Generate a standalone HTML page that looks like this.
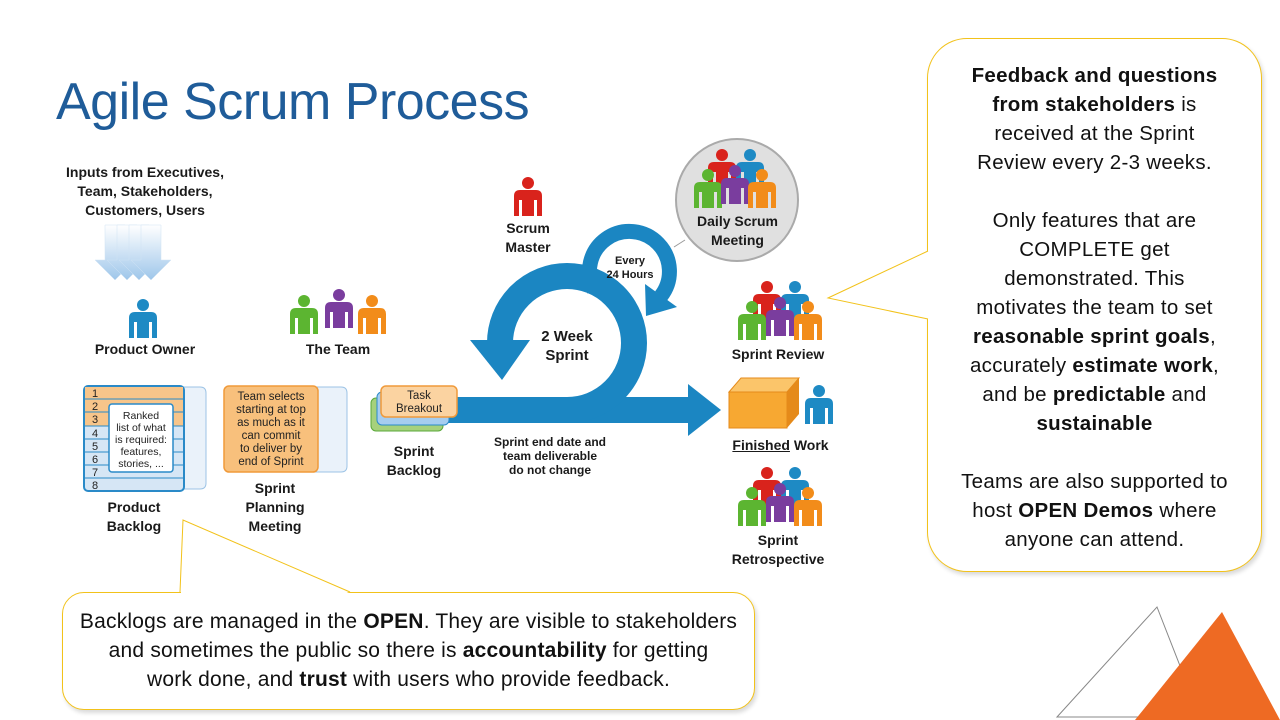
<!DOCTYPE html>
<html><head><meta charset="utf-8"><style>
body{margin:0;width:1280px;height:720px;overflow:hidden;background:#fff;font-family:"Liberation Sans",sans-serif;position:relative}
.t{position:absolute;font-weight:bold;font-size:14px;color:#1a1a1a;text-align:center;line-height:19px}
.callout{position:absolute;color:#111;text-align:center;line-height:29px}
</style></head><body>
<div style="position:absolute;left:56px;top:72px;font-size:52px;color:#1F5C99;letter-spacing:-0.5px">Agile Scrum Process</div>

<svg width="1280" height="720" style="position:absolute;left:0;top:0">
<defs>
<linearGradient id="dn" x1="0" y1="0" x2="0" y2="1"><stop offset="0" stop-color="#fff"/><stop offset="1" stop-color="#9ec6ea"/></linearGradient>
<g id="p"><circle cx="0" cy="-13" r="6"/><path d="M-14 20 V0 Q-14 -6 -8 -6 H8 Q14 -6 14 0 V20 H9 V4 H6 V20 H-6 V4 H-9 V20Z"/></g>
</defs>
<g fill="url(#dn)" stroke="#cfe2f3" stroke-width="0.5">
<path d="M105 225 h20 v35 h10 l-20 20 l-20 -20 h10z"/><path d="M117 225 h20 v35 h10 l-20 20 l-20 -20 h10z"/><path d="M129 225 h20 v35 h10 l-20 20 l-20 -20 h10z"/><path d="M141 225 h20 v35 h10 l-20 20 l-20 -20 h10z"/>
</g>
<use href="#p" x="143" y="318" fill="#1e8ac4"/>
<use href="#p" x="528" y="196" fill="#d9231c"/>
<g><use href="#p" x="304" y="314" fill="#5cb531"/><use href="#p" x="339" y="308" fill="#7a3d9e"/><use href="#p" x="372" y="314" fill="#f28c1a"/></g>
<g>
<path d="M183 387 h17 q6 0 6 6 v90 q0 6 -6 6 h-17" fill="#eaf2fa" stroke="#9cc3e5"/>
<rect x="84" y="386" width="100" height="105" rx="4" fill="#d6e6f5" stroke="#2a8ac8" stroke-width="2"/>
<rect x="85" y="387" width="98" height="39" fill="#f7c58a"/>
<g stroke="#2a8ac8" stroke-width="1"><line x1="84" y1="399" x2="184" y2="399"/><line x1="84" y1="412" x2="184" y2="412"/><line x1="84" y1="426" x2="184" y2="426"/><line x1="84" y1="439" x2="184" y2="439"/><line x1="84" y1="452" x2="184" y2="452"/><line x1="84" y1="465" x2="184" y2="465"/><line x1="84" y1="478" x2="184" y2="478"/></g>
<g font-size="11" fill="#222"><text x="92" y="397">1</text><text x="92" y="410">2</text><text x="92" y="423">3</text><text x="92" y="437">4</text><text x="92" y="450">5</text><text x="92" y="463">6</text><text x="92" y="476">7</text><text x="92" y="489">8</text></g>
<rect x="109" y="404" width="64" height="68" rx="3" fill="#fff" stroke="#2a8ac8" stroke-width="1.5"/>
<g font-size="10.5" fill="#222" text-anchor="middle"><text x="141" y="419">Ranked</text><text x="141" y="431">list of what</text><text x="141" y="443">is required:</text><text x="141" y="455">features,</text><text x="141" y="467">stories, ...</text></g>
</g>
<g>
<path d="M310 387 h31 q6 0 6 6 v73 q0 6 -6 6 h-31" fill="#eaf2fa" stroke="#9cc3e5"/>
<rect x="224" y="386" width="94" height="86" rx="5" fill="#f8c07c" stroke="#f09a3a" stroke-width="1.5"/>
<g font-size="11.5" fill="#222" text-anchor="middle"><text x="271" y="400">Team selects</text><text x="271" y="413">starting at top</text><text x="271" y="426">as much as it</text><text x="271" y="439">can commit</text><text x="271" y="452">to deliver by</text><text x="271" y="465">end of Sprint</text></g>
</g>
<g>
<path d="M594 290 A40 40 0 1 1 661 296" fill="none" stroke="#1b86c2" stroke-width="15"/>
<polygon points="677,307 645,284 646,316" fill="#1b86c2"/>
<rect x="440" y="397" width="250" height="26" fill="#1b86c2"/>
<polygon points="688,384 721,410 688,436" fill="#1b86c2"/>
<path d="M567 410 A67 67 0 1 0 500 343" fill="none" stroke="#1b86c2" stroke-width="26"/>
<polygon points="470,340 530,340 502,380" fill="#1b86c2"/>
</g>
<g>
<rect x="371" y="398" width="72" height="33" rx="5" fill="#a6d17c" stroke="#5aa83a"/>
<rect x="377" y="392" width="72" height="33" rx="5" fill="#a6cdef" stroke="#2a8ac8"/>
<rect x="381" y="386" width="76" height="31" rx="5" fill="#fbd3a1" stroke="#f09a3a" stroke-width="1.5"/>
<text x="419" y="399" font-size="11.5" text-anchor="middle" fill="#222">Task</text><text x="419" y="412" font-size="11.5" text-anchor="middle" fill="#222">Breakout</text>
</g>
<circle cx="737" cy="200" r="61" fill="#e0e0e0" stroke="#aaa" stroke-width="2"/>
<line x1="674" y1="247" x2="685" y2="240" stroke="#999"/>
<g><use href="#p" x="722" y="168" fill="#d9231c"/><use href="#p" x="750" y="168" fill="#1e8ac4"/><use href="#p" x="708" y="188" fill="#5cb531"/><use href="#p" x="735" y="184" fill="#7a3d9e"/><use href="#p" x="762" y="188" fill="#f28c1a"/></g>
<g><use href="#p" x="767" y="300" fill="#d9231c"/><use href="#p" x="795" y="300" fill="#1e8ac4"/><use href="#p" x="752" y="320" fill="#5cb531"/><use href="#p" x="780" y="316" fill="#7a3d9e"/><use href="#p" x="808" y="320" fill="#f28c1a"/></g>
<g><use href="#p" x="767" y="486" fill="#d9231c"/><use href="#p" x="795" y="486" fill="#1e8ac4"/><use href="#p" x="752" y="506" fill="#5cb531"/><use href="#p" x="780" y="502" fill="#7a3d9e"/><use href="#p" x="808" y="506" fill="#f28c1a"/></g>
<g><path d="M729 392 h58 v36 h-58z" fill="#f7a832" stroke="#e58a1a"/><path d="M729 392 l12 -14 h58 l-12 14z" fill="#fbc56a" stroke="#e58a1a"/><path d="M787 392 l12 -14 v36 l-12 14z" fill="#e58a1a"/></g>
<use href="#p" x="819" y="404" fill="#1e8ac4"/>
<polygon points="1057,717 1157,607 1200,717" fill="none" stroke="#888" stroke-width="1"/>
<polygon points="1135,720 1222,612 1280,720" fill="#ee6a23"/>
</svg>

<div class="t" style="left:55px;top:163px;width:180px">Inputs from Executives,<br>Team, Stakeholders,<br>Customers, Users</div>
<div class="t" style="left:80px;top:340px;width:130px">Product Owner</div>
<div class="t" style="left:288px;top:340px;width:100px">The Team</div>
<div class="t" style="left:488px;top:219px;width:80px">Scrum<br>Master</div>
<div class="t" style="left:680px;top:212px;width:115px">Daily Scrum<br>Meeting</div>
<div class="t" style="left:598px;top:254px;width:64px;font-size:11px;line-height:14px">Every<br>24 Hours</div>
<div class="t" style="left:522px;top:327px;width:90px;font-size:15px">2 Week<br>Sprint</div>
<div class="t" style="left:84px;top:498px;width:100px">Product<br>Backlog</div>
<div class="t" style="left:225px;top:479px;width:100px">Sprint<br>Planning<br>Meeting</div>
<div class="t" style="left:364px;top:442px;width:100px">Sprint<br>Backlog</div>
<div class="t" style="left:480px;top:435px;width:140px;font-size:12px;line-height:14px">Sprint end date and<br>team deliverable<br>do not change</div>
<div class="t" style="left:718px;top:345px;width:120px">Sprint Review</div>
<div class="t" style="left:718px;top:436px;width:125px"><u>Finished</u> Work</div>
<div class="t" style="left:718px;top:531px;width:120px">Sprint<br>Retrospective</div>

<div class="callout" style="left:927px;top:38px;width:335px;height:534px;box-sizing:border-box;border:1px solid #f2c21a;border-radius:40px;background:#fff;padding-top:22px;font-size:20.5px;letter-spacing:0.3px;box-shadow:2px 3px 4px rgba(0,0,0,0.15)">
<b>Feedback and questions<br>from stakeholders</b> is<br>received at the Sprint<br>Review every 2-3 weeks.<br><br>Only features that are<br>COMPLETE get<br>demonstrated. This<br>motivates the team to set<br><b>reasonable sprint goals</b>,<br>accurately <b>estimate work</b>,<br>and be <b>predictable</b> and<br><b>sustainable</b><br><br>Teams are also supported to<br>host <b>OPEN Demos</b> where<br>anyone can attend.</div>
<div class="callout" style="left:62px;top:592px;width:693px;height:118px;box-sizing:border-box;border:1px solid #f2c21a;border-radius:22px;background:#fff;padding-top:14px;font-size:21px;letter-spacing:0.2px;box-shadow:2px 3px 4px rgba(0,0,0,0.15)">Backlogs are managed in the <b>OPEN</b>. They are visible to stakeholders<br>and sometimes the public so there is <b>accountability</b> for getting<br>work done, and <b>trust</b> with users who provide feedback.</div>
<svg width="1280" height="720" style="position:absolute;left:0;top:0;pointer-events:none"><path d="M181 593 L183 521 L349 593" fill="#fff" stroke="none"/><path d="M180 592 L183 520 L350 592" fill="none" stroke="#f2c21a"/><path d="M928 251 L829 298 L928 319" fill="#fff"/><path d="M928 251 L828 298 L928 319" fill="none" stroke="#f2c21a"/></svg>
</body></html>
